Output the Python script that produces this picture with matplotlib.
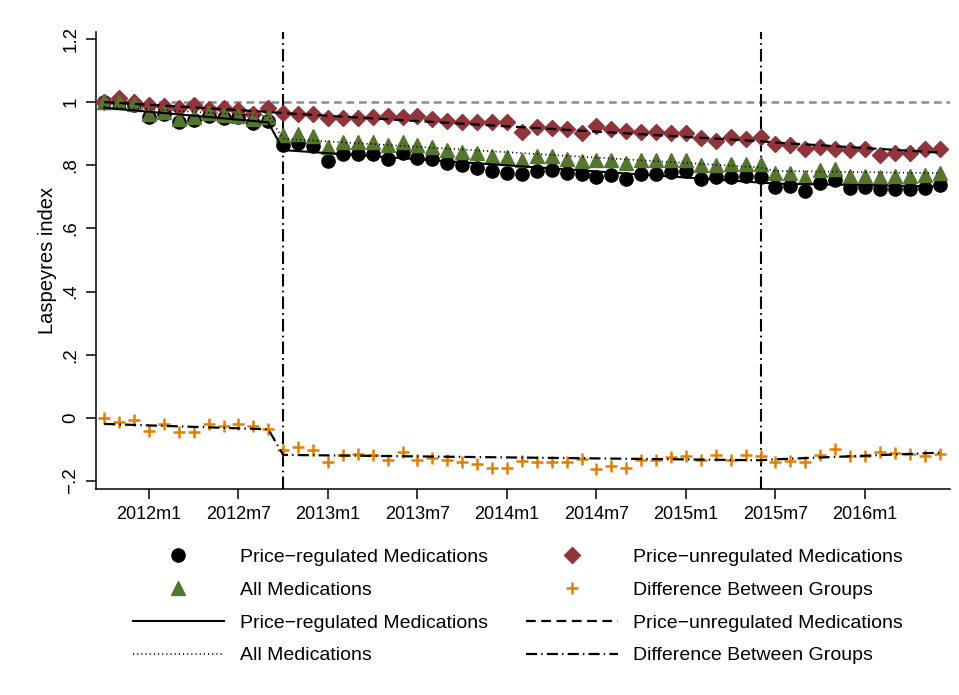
import matplotlib
matplotlib.use("Agg")
import matplotlib.pyplot as plt
from matplotlib.lines import Line2D

plt.rcParams['font.family'] = ['Liberation Sans', 'DejaVu Sans']
plt.rcParams['lines.scale_dashes'] = False

# months 2011m10 .. 2016m6
months = []
yr, mo = 2011, 10
while (yr, mo) <= (2016, 6):
    months.append(str(yr) + "m" + str(mo))
    mo += 1
    if mo > 12:
        mo = 1
        yr += 1
t = list(range(len(months)))

regulated = [1.0, 1.0, 0.99, 0.953, 0.962, 0.937, 0.943, 0.956, 0.95, 0.953, 0.934, 0.94,
             0.864, 0.87, 0.861, 0.813, 0.835, 0.835, 0.835, 0.82, 0.838, 0.823, 0.82, 0.807,
             0.80, 0.791, 0.782, 0.775, 0.772, 0.782, 0.785, 0.775, 0.772, 0.763, 0.768, 0.756,
             0.772, 0.772, 0.78, 0.782, 0.756, 0.763, 0.763, 0.767, 0.763, 0.731, 0.734, 0.718,
             0.744, 0.753, 0.728, 0.73, 0.724, 0.726, 0.726, 0.729, 0.737]
unregulated = [1.0, 1.014, 1.0, 0.99, 0.987, 0.98, 0.99, 0.978, 0.98, 0.975, 0.962, 0.98,
               0.966, 0.961, 0.961, 0.95, 0.949, 0.949, 0.953, 0.956, 0.953, 0.956, 0.946, 0.94,
               0.936, 0.936, 0.936, 0.936, 0.904, 0.922, 0.918, 0.914, 0.901, 0.924, 0.914, 0.908,
               0.904, 0.904, 0.903, 0.901, 0.885, 0.878, 0.888, 0.883, 0.888, 0.867, 0.864, 0.851,
               0.859, 0.851, 0.848, 0.851, 0.832, 0.838, 0.838, 0.851, 0.85]
all_meds = [1.0, 1.0, 0.994, 0.962, 0.969, 0.946, 0.953, 0.965, 0.959, 0.956, 0.946, 0.953,
            0.896, 0.898, 0.893, 0.858, 0.873, 0.873, 0.873, 0.864, 0.873, 0.864, 0.859, 0.848,
            0.843, 0.838, 0.83, 0.826, 0.816, 0.829, 0.829, 0.821, 0.814, 0.816, 0.816, 0.807,
            0.816, 0.816, 0.816, 0.818, 0.80, 0.80, 0.803, 0.803, 0.803, 0.776, 0.776, 0.763,
            0.785, 0.787, 0.767, 0.767, 0.763, 0.765, 0.765, 0.77, 0.776]
difference = [0.0, -0.012, -0.008, -0.04, -0.019, -0.043, -0.043, -0.019, -0.027, -0.02, -0.025, -0.036,
              -0.101, -0.091, -0.103, -0.14, -0.117, -0.114, -0.117, -0.133, -0.109, -0.133, -0.128, -0.133,
              -0.138, -0.147, -0.157, -0.16, -0.135, -0.141, -0.138, -0.138, -0.131, -0.163, -0.151, -0.157,
              -0.133, -0.133, -0.124, -0.119, -0.133, -0.117, -0.133, -0.117, -0.12, -0.138, -0.135, -0.138,
              -0.117, -0.099, -0.122, -0.122, -0.109, -0.11, -0.114, -0.122, -0.114]

# fitted (segmented) trend lines, values at the knots
fit_t = [0, 11, 12, 44, 45, 56]
fit_regulated = [0.982, 0.936, 0.848, 0.745, 0.742, 0.733]
fit_unregulated = [1.0, 0.969, 0.965, 0.876, 0.872, 0.840]
fit_all = [0.985, 0.956, 0.884, 0.793, 0.782, 0.775]
fit_difference = [-0.019, -0.036, -0.117, -0.134, -0.131, -0.110]

policy_months = ["2012m10", "2015m6"]
tick_months = ["2012m1", "2012m7", "2013m1", "2013m7", "2014m1", "2014m7", "2015m1", "2015m7", "2016m1"]
yticks = [-0.2, 0, 0.2, 0.4, 0.6, 0.8, 1.0, 1.2]
ytick_labels = ["\u2212.2", "0", ".2", ".4", ".6", ".8", "1", "1.2"]

maroon = "#90353B"
green = "#55752F"
orange = "#E37E00"

fig = plt.figure(figsize=(9.59, 6.95), dpi=100)
ax = fig.add_axes([0.1001, 0.2964, 0.8905, 0.6576])

ax.axhline(1.0, color="#8c8c8c", lw=1.8, dashes=(5.5, 3.5), zorder=1)
for pm in policy_months:
    ax.axvline(months.index(pm), color="black", lw=1.5, dashes=(9, 3, 1.2, 3), zorder=1)

ax.plot(t, regulated, "o", color="black", ms=9.5, mec="black", zorder=3)
ax.plot(t, unregulated, "D", color=maroon, ms=8.5, mec=maroon, zorder=3)
ax.plot(t, all_meds, "^", color=green, ms=9.5, mec=green, zorder=3)
ax.plot(t, difference, "+", color=orange, ms=9, mew=1.8, zorder=3)

ax.plot(fit_t, fit_regulated, color="black", lw=1.5, zorder=4)
ax.plot(fit_t, fit_unregulated, color="black", lw=1.6, dashes=(7, 4), zorder=4)
ax.plot(fit_t, fit_all, color="black", lw=1.2, dashes=(0.8, 2.2), zorder=4)
ax.plot(fit_t, fit_difference, color="black", lw=1.6, dashes=(8, 3, 1, 3), zorder=4)

ax.set_xlim(-0.55, 56.7)
ax.set_ylim(-0.225, 1.222)
ax.set_xticks([months.index(m) for m in tick_months])
ax.set_xticklabels(tick_months, fontsize=13)
ax.set_yticks(yticks)
ax.set_yticklabels(ytick_labels, fontsize=13.5, rotation=90, va="center")
ax.set_ylabel("Laspeyres index", fontsize=14.5, labelpad=4)
ax.tick_params(axis="both", direction="out", length=7, width=1.1, pad=5)
for s in ["top", "right"]:
    ax.spines[s].set_visible(False)
for s in ["left", "bottom"]:
    ax.spines[s].set_linewidth(1.1)

handles = [
    Line2D([], [], ls="none", marker="o", color="black", ms=9.5),
    Line2D([], [], ls="none", marker="^", color=green, ms=9.5),
    Line2D([], [], color="black", lw=1.5),
    Line2D([], [], color="black", lw=1.2, dashes=(0.8, 2.2)),
    Line2D([], [], ls="none", marker="D", color=maroon, ms=8.5),
    Line2D([], [], ls="none", marker="+", color=orange, ms=9, mew=1.8),
    Line2D([], [], color="black", lw=1.6, dashes=(7, 4)),
    Line2D([], [], color="black", lw=1.6, dashes=(8, 3, 1, 3)),
]
labels = ["Price\u2212regulated Medications", "All Medications",
          "Price\u2212regulated Medications", "All Medications",
          "Price\u2212unregulated Medications", "Difference Between Groups",
          "Price\u2212unregulated Medications", "Difference Between Groups"]
fig.legend(handles, labels, ncol=2, loc="center", bbox_to_anchor=(0.54, 0.1275),
           frameon=False, fontsize=14, handlelength=4.7, handletextpad=0.8,
           columnspacing=2.0, labelspacing=0.78)

fig.savefig("out.png", dpi=100)
